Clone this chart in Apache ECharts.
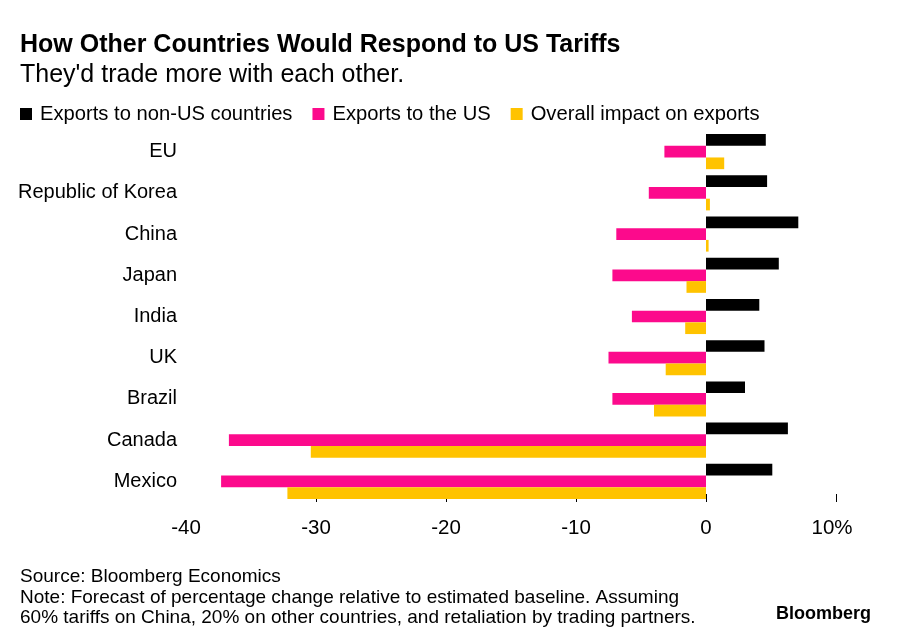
<!DOCTYPE html>
<html>
<head>
<meta charset="utf-8">
<script src="https://cdn.jsdelivr.net/npm/echarts@6/dist/echarts.min.js"></script>
<style>
html,body{margin:0;padding:0;background:#fff;}
#chart{width:900px;height:644px;}
</style>
</head>
<body>
<div id="chart"></div>
<script>
const categories = ['EU', 'Republic of Korea', 'China', 'Japan', 'India', 'UK', 'Brazil', 'Canada', 'Mexico'];
const exportsNonUS = [4.6, 4.7, 7.1, 5.6, 4.1, 4.5, 3.0, 6.3, 5.1];
const exportsUS = [-3.2, -4.4, -6.9, -7.2, -5.7, -7.5, -7.2, -36.7, -37.3];
const overallImpact = [1.4, 0.3, 0.2, -1.5, -1.6, -3.1, -4.0, -30.4, -32.2];
const xTicks = [-30, -20, -10, 0, 10];
const xLabels = [-40, -30, -20, -10, 0, 10];

const FONT = 'Liberation Sans, Arial, sans-serif';
const chart = echarts.init(document.getElementById('chart'), null, {renderer: 'canvas'});

const barStyle = (name, data, color) => ({
  name: name,
  type: 'bar',
  data: data,
  barWidth: 11.7,
  barGap: '0%',
  itemStyle: {color: color},
  emphasis: {disabled: true},
  animation: false
});

chart.setOption({
  animation: false,
  backgroundColor: '#ffffff',
  title: [
    {text: 'How Other Countries Would Respond to US Tariffs', left: 20, top: 33, padding: 0,
     textStyle: {fontFamily: FONT, fontSize: 25, fontWeight: 'bold', color: '#000'}},
    {text: "They'd trade more with each other.", left: 20, top: 63, padding: 0,
     textStyle: {fontFamily: FONT, fontSize: 25, fontWeight: 'normal', color: '#000'}}
  ],
  legend: {
    left: 20, top: 104, padding: 0,
    icon: 'rect', itemWidth: 12, itemHeight: 12, itemGap: 20,
    textStyle: {fontFamily: FONT, fontSize: 20.2, color: '#000', padding: [0, 0, 0, 3]},
    data: ['Exports to non-US countries', 'Exports to the US', 'Overall impact on exports'],
    selectedMode: false
  },
  grid: {left: 186, right: 64, top: 131, bottom: 142},
  xAxis: {
    type: 'value', min: -40, max: 10, interval: 10,
    axisLine: {show: false},
    splitLine: {show: false},
    axisTick: {show: true, inside: true, length: 8, customValues: xTicks, lineStyle: {color: '#000', width: 1}},
    axisLabel: {customValues: xLabels, margin: 16, fontFamily: FONT, fontSize: 20.5, color: '#000',
      formatter: v => v === 10 ? '{p|10%}' : String(v),
      rich: {p: {fontFamily: FONT, fontSize: 20.5, color: '#000', padding: [0, 8, 0, 0]}}}
  },
  yAxis: {
    type: 'category', data: categories, inverse: true,
    axisLine: {show: false}, axisTick: {show: false},
    axisLabel: {margin: 9, fontFamily: FONT, fontSize: 20, color: '#000'}
  },
  series: [
    barStyle('Exports to non-US countries', exportsNonUS, '#000000'),
    barStyle('Exports to the US', exportsUS, '#fc0a8c'),
    barStyle('Overall impact on exports', overallImpact, '#ffc300')
  ],
  graphic: [
    {type: 'text', left: 20, top: 567, style: {text: 'Source: Bloomberg Economics', font: '19px ' + FONT, fill: '#000'}},
    {type: 'text', left: 20, top: 588, style: {text: 'Note: Forecast of percentage change relative to estimated baseline. Assuming', font: '19px ' + FONT, fill: '#000'}},
    {type: 'text', left: 20, top: 608, style: {text: '60% tariffs on China, 20% on other countries, and retaliation by trading partners.', font: '19px ' + FONT, fill: '#000'}},
    {type: 'text', left: 776, top: 605, style: {text: 'Bloomberg', font: 'bold 18px ' + FONT, fill: '#000'}}
  ]
});
</script>
</body>
</html>
